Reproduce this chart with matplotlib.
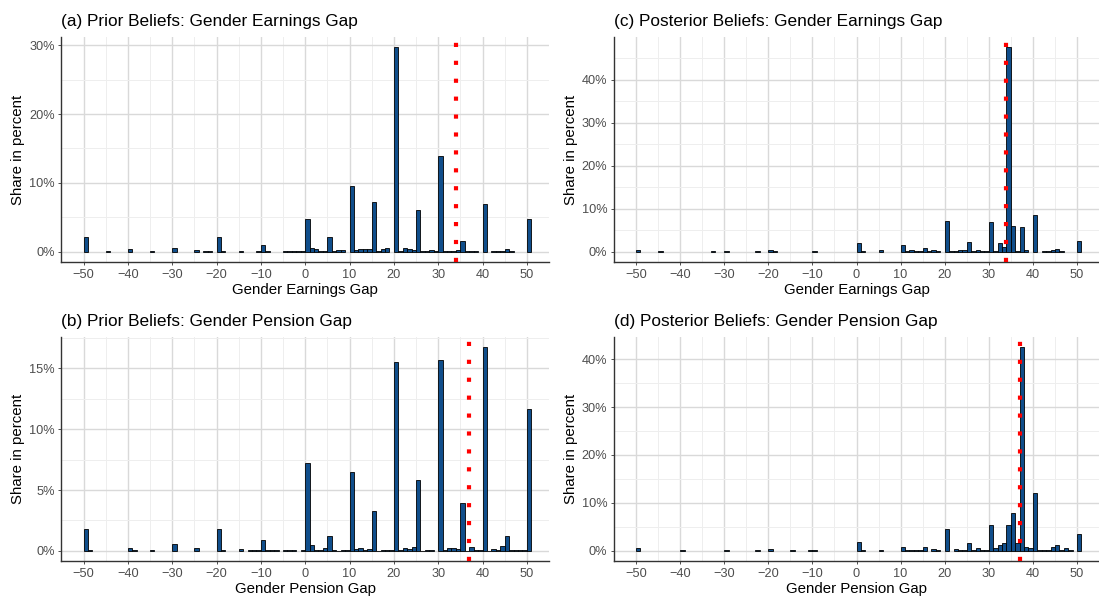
import matplotlib
matplotlib.use("Agg")
import matplotlib.pyplot as plt
from matplotlib.ticker import MultipleLocator, FuncFormatter

plt.rcParams['font.family'] = ['Liberation Sans', 'DejaVu Sans']

# ---------------- data: share in percent per 1-point bin (left edge) ----------------
prior_earn_bins = [-50, -45, -40, -35, -30, -25, -23, -22, -20, -19, -15, -11, -10, -9,
                   -5, -4, -3, -2, -1, 0, 1, 2, 3, 4, 5, 6, 7, 8, 10, 11, 12, 13, 14,
                   15, 16, 17, 18, 20, 21, 22, 23, 24, 25, 26, 27, 28, 29, 30, 31, 32,
                   33, 34, 35, 36, 37, 38, 40, 42, 43, 44, 45, 46, 50]
prior_earn_share = [2.1, 0.05, 0.35, 0.05, 0.6, 0.25, 0.1, 0.1, 2.1, 0.05, 0.05, 0.05, 1.0, 0.05,
                    0.05, 0.15, 0.05, 0.05, 0.05, 4.7, 0.6, 0.4, 0.05, 0.05, 2.1, 0.15, 0.2, 0.2, 9.5, 0.3, 0.4, 0.45, 0.4,
                    7.2, 0.05, 0.35, 0.6, 29.7, 0.15, 0.6, 0.35, 0.25, 6.0, 0.05, 0.05, 0.2, 0.05, 13.9, 0.05, 0.05,
                    0.05, 0.2, 1.6, 0.05, 0.1, 0.05, 7.0, 0.05, 0.05, 0.1, 0.4, 0.05, 4.7]

prior_pens_bins = [-50, -49, -40, -39, -35, -30, -25, -20, -19, -15, -13, -12, -11, -10, -9,
                   -8, -7, -5, -4, -3, -1, 0, 1, 2, 3, 4, 5, 6, 7, 8, 9, 10, 11, 12, 13, 14,
                   15, 16, 17, 18, 19, 20, 21, 22, 23, 24, 25, 26, 27, 28, 30, 31, 32, 33, 34,
                   35, 36, 37, 38, 39, 40, 41, 42, 43, 44, 45, 46, 47, 48, 49, 50]
prior_pens_share = [1.8, 0.05, 0.22, 0.08, 0.08, 0.57, 0.22, 1.8, 0.05, 0.13, 0.05, 0.05, 0.07, 0.9, 0.07,
                    0.08, 0.07, 0.05, 0.05, 0.05, 0.05, 7.25, 0.44, 0.03, 0.1, 0.2, 1.2, 0.1, 0.02, 0.1, 0.03, 6.5, 0.19, 0.27, 0.1, 0.12,
                    3.25, 0.02, 0.1, 0.1, 0.03, 15.5, 0.1, 0.25, 0.15, 0.3, 5.8, 0.02, 0.1, 0.1, 15.7, 0.08, 0.25, 0.2, 0.12,
                    3.9, 0.02, 0.28, 0.03, 0.03, 16.75, 0.02, 0.12, 0.03, 0.38, 1.2, 0.08, 0.03, 0.03, 0.05, 11.65]

post_earn_bins = [-50, -45, -33, -30, -23, -20, -19, -10, 0, 1, 5, 10, 11, 12, 13, 14, 15, 16,
                  17, 18, 20, 21, 22, 23, 24, 25, 26, 27, 28, 29, 30, 31, 32, 33, 34, 35, 36,
                  37, 38, 40, 42, 43, 44, 45, 46, 50]
post_earn_share = [0.3, 0.1, 0.1, 0.15, 0.1, 0.4, 0.1, 0.15, 2.0, 0.25, 0.3, 1.5, 0.1, 0.4, 0.15, 0.1, 0.85, 0.15,
                   0.3, 0.15, 7.1, 0.1, 0.2, 0.45, 0.3, 2.33, 0.1, 0.3, 0.2, 0.1, 6.85, 0.25, 1.95, 1.0, 47.6, 6.0, 0.25,
                   5.7, 0.3, 8.55, 0.08, 0.08, 0.3, 0.55, 0.1, 2.5]

post_pens_bins = [-50, -40, -30, -23, -20, -15, -11, -10, 0, 1, 5, 10, 11, 12, 13, 14, 15, 17,
                  18, 20, 22, 23, 24, 25, 26, 27, 28, 29, 30, 31, 32, 33, 34, 35, 36, 37, 38,
                  39, 40, 41, 42, 43, 44, 45, 46, 47, 48, 50]
post_pens_share = [0.5, 0.15, 0.15, 0.12, 0.4, 0.15, 0.15, 0.25, 1.87, 0.2, 0.15, 0.7, 0.2, 0.25, 0.2, 0.25, 0.7, 0.4,
                   0.15, 4.6, 0.4, 0.25, 0.1, 1.73, 0.2, 0.55, 0.1, 0.1, 5.47, 0.55, 1.18, 1.73, 5.4, 7.82, 1.6, 42.5, 0.76,
                   0.5, 12.0, 0.2, 0.2, 0.2, 0.7, 1.3, 0.2, 0.5, 0.1, 3.45]

true_earn_gap = 34
true_pens_gap = 37

titles = ["(a) Prior Beliefs: Gender Earnings Gap", "(b) Prior Beliefs: Gender Pension Gap",
          "(c) Posterior Beliefs: Gender Earnings Gap", "(d) Posterior Beliefs: Gender Pension Gap"]
xlabels = ["Gender Earnings Gap", "Gender Pension Gap", "Gender Earnings Gap", "Gender Pension Gap"]

W, H = 1099, 601
fig = plt.figure(figsize=(W / 100, H / 100), dpi=100)


def px_axes(left, top, right, bottom):
    return fig.add_axes([left / W, 1 - bottom / H, (right - left) / W, (bottom - top) / H])


def panel(ax, bins, share, vline, title, xlabel, ymaj):
    ax.bar(bins, share, width=1, align='edge', color='#104E8B', edgecolor='black',
           linewidth=0.6, zorder=2)
    ax.axvline(vline, color='#FF0000', linewidth=3.0, linestyle=(0, (1, 3.3)), zorder=3)
    top = max(share)
    ax.set_xlim(-55, 55)
    ax.set_ylim(-top * 0.05, top * 1.05)
    # ------ grid ------
    ax.xaxis.set_major_locator(MultipleLocator(10))
    ax.xaxis.set_minor_locator(MultipleLocator(5))
    ax.yaxis.set_major_locator(MultipleLocator(ymaj))
    ax.yaxis.set_minor_locator(MultipleLocator(ymaj / 2))
    ax.yaxis.set_major_formatter(FuncFormatter(lambda v, p: f"{v:g}%"))
    ax.grid(which='major', color='#D9D9D9', linewidth=1.0)
    ax.grid(which='minor', color='#EEEEEE', linewidth=0.7)
    ax.set_axisbelow(True)
    for s in ['top', 'right']:
        ax.spines[s].set_visible(False)
    for s in ['left', 'bottom']:
        ax.spines[s].set_color('#333333')
        ax.spines[s].set_linewidth(1.0)
    ax.tick_params(which='major', length=2.2, width=0.6, color='#333333',
                   labelsize=9.2, labelcolor='#4D4D4D', pad=2.5)
    ax.tick_params(which='minor', length=0)
    # ------ text ------
    ax.set_title(title, loc='left', fontsize=12.4, pad=8)
    ax.set_xlabel(xlabel, fontsize=10.8, labelpad=2)
    ax.set_ylabel("Share in percent", fontsize=10.8, labelpad=3)


ax_a = px_axes(61.4, 37, 549, 262)
ax_c = px_axes(614, 37, 1099, 262)
ax_b = px_axes(61.4, 337, 549, 561)
ax_d = px_axes(614, 337, 1099, 561)

panel(ax_a, prior_earn_bins, prior_earn_share, true_earn_gap, titles[0], xlabels[0], 10)
panel(ax_b, prior_pens_bins, prior_pens_share, true_pens_gap, titles[1], xlabels[1], 5)
panel(ax_c, post_earn_bins, post_earn_share, true_earn_gap, titles[2], xlabels[2], 10)
panel(ax_d, post_pens_bins, post_pens_share, true_pens_gap, titles[3], xlabels[3], 10)

fig.savefig("out.png", dpi=100)
